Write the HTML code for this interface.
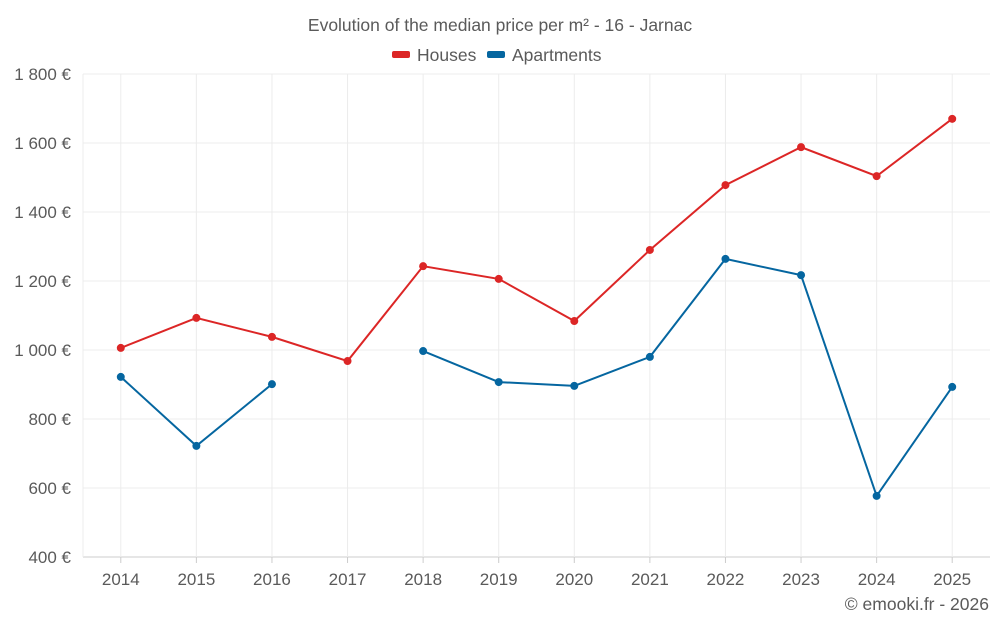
<!DOCTYPE html>
<html><head><meta charset="utf-8"><style>
body{margin:0;background:#fff;font-family:"Liberation Sans",sans-serif}
svg text{font-family:"Liberation Sans",sans-serif}
</style></head><body>
<svg id="chart" width="1000" height="625">
<text x="500" y="31" text-anchor="middle" font-size="17.5" fill="#5a5a5a">Evolution of the median price per m² - 16 - Jarnac</text>
<g>
<g><rect x="392" y="51" width="18" height="7" rx="2" fill="#dc2626"/><text x="417" y="61" font-size="17.5" fill="#5a5a5a">Houses</text></g>
<g><rect x="487" y="51" width="18" height="7" rx="2" fill="#0566a0"/><text x="512" y="61" font-size="17.5" fill="#5a5a5a">Apartments</text></g>
</g>
<g id="grid"></g>
<g id="axes"></g>
<g id="series"></g>
<text x="989" y="610" text-anchor="end" font-size="17.5" fill="#5a5a5a">© emooki.fr - 2026</text>
</svg>
<script>
const years=[2014,2015,2016,2017,2018,2019,2020,2021,2022,2023,2024,2025];
const houses=[1006,1093,1038,968,1243,1206,1084,1290,1478,1588,1504,1670];
const apartments=[922,722,901,null,997,907,896,980,1264,1217,577,893];
const yTicks=[400,600,800,1000,1200,1400,1600,1800];
const yLabels=["400 €","600 €","800 €","1 000 €","1 200 €","1 400 €","1 600 €","1 800 €"];
const NS="http://www.w3.org/2000/svg";
const L=83,R=990,T=74,B=557;
const x=i=>L+(R-L)/years.length*(i+0.5);
const y=v=>B-(v-400)/1400*(B-T);
function mk(tag,attrs,parent){const e=document.createElementNS(NS,tag);for(const k in attrs)e.setAttribute(k,attrs[k]);parent.appendChild(e);return e;}
const grid=document.getElementById('grid'),axes=document.getElementById('axes'),series=document.getElementById('series');
yTicks.forEach((t,i)=>{
 const g=mk('line',{x1:L,x2:R,y1:y(t),y2:y(t),stroke:i===0?'#ccc':'#ececec'},grid);
 
 
 const tx=mk('text',{x:71,y:y(t)+6,'text-anchor':'end','font-size':17,fill:'#5a5a5a'},axes);
 tx.textContent=yLabels[i];
 
 
});
years.forEach((yr,i)=>{
 const g=mk('line',{x1:x(i),x2:x(i),y1:T,y2:B,stroke:'#ececec'},grid);
 
 
 const tk=mk('line',{x1:x(i),x2:x(i),y1:B,y2:B+6,stroke:'#ccc'},axes);
 
 
 const tx=mk('text',{x:x(i),y:585,'text-anchor':'middle','font-size':17,fill:'#5a5a5a'},axes);
 tx.textContent=yr;
 
 
});
mk('line',{x1:L,x2:L,y1:T,y2:B,stroke:'#ececec'},grid);
function draw(vals,color,name){
 let d='',pen=false;
 vals.forEach((v,i)=>{if(v==null){pen=false;return;}d+=(pen?'L':'M')+x(i)+' '+y(v)+' ';pen=true;});
 const p=mk('path',{d:d,fill:'none',stroke:color,'stroke-width':2},series);
 
 
 vals.forEach((v,i)=>{if(v==null)return;
  const c=mk('circle',{cx:x(i),cy:y(v),r:4,fill:color},series);
  
  
 });
}
draw(houses,'#dc2626','houses');
draw(apartments,'#0566a0','apartments');
</script>
</body></html>
